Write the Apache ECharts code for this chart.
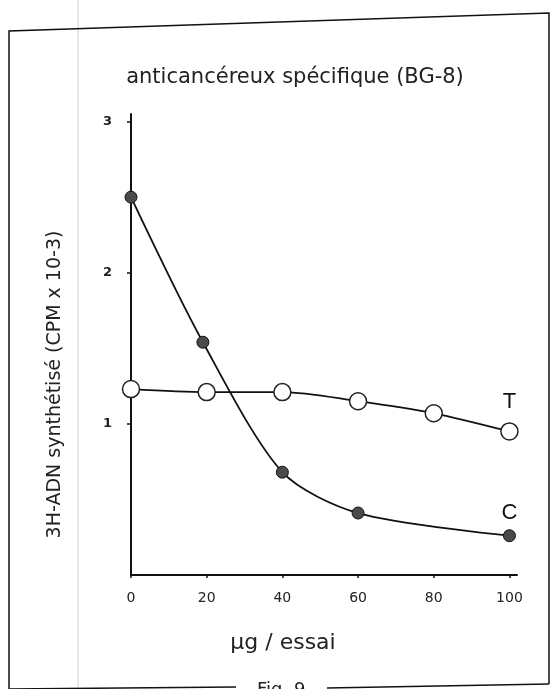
<!DOCTYPE html>
<html>
<head>
<meta charset="utf-8">
<script src="https://cdn.jsdelivr.net/npm/echarts@6/dist/echarts.min.js"></script>
<style>html,body{margin:0;padding:0;background:#fff;}#c{width:550px;height:689px;}</style>
</head>
<body>
<div id="c"></div>
<script>
const titleText = 'anticancéreux spécifique (BG-8)';
const yAxisName = '3H-ADN synthétisé (CPM x 10-3)';
const xAxisName = 'µg / essai';
const figText = 'Fig. 9';
const dosesC = [0, 19, 40, 60, 100];
const valuesC = [2.50, 1.54, 0.68, 0.41, 0.26];
const dosesT = [0, 20, 40, 60, 80, 100];
const valuesT = [1.23, 1.21, 1.21, 1.15, 1.07, 0.95];
const labelC = 'C';
const labelT = 'T';

const font = '"DejaVu Sans", sans-serif';
function build(xs, ys, lbl, dist) {
  return xs.map((x, i) => {
    const item = { value: [x, ys[i]] };
    if (i === xs.length - 1) {
      item.label = { show: true, formatter: lbl, position: 'top', distance: dist,
        fontSize: 22, color: '#111', fontFamily: '"Liberation Sans", sans-serif' };
    }
    return item;
  });
}
const chart = echarts.init(document.getElementById('c'));
chart.setOption({
  backgroundColor: '#fff',
  animation: false,
  title: { text: titleText, left: 290, textAlign: 'center', top: 62,
    textStyle: { fontFamily: font, fontWeight: 'normal', fontSize: 21, color: '#222' } },
  grid: { left: 131, right: 33, top: 114, bottom: 114 },
  xAxis: {
    type: 'value', min: 0, max: 102, interval: 20,
    name: xAxisName, nameLocation: 'middle', nameGap: 57,
    nameTextStyle: { fontFamily: font, fontSize: 22, color: '#222', padding: [0, 82, 0, 0] },
    axisLine: { show: true, lineStyle: { color: '#111', width: 2 } },
    axisTick: { show: true, length: 3, lineStyle: { color: '#111', width: 1.5 } },
    axisLabel: { showMaxLabel: false, margin: 16, fontFamily: font, fontSize: 14, color: '#222' },
    splitLine: { show: false }
  },
  yAxis: {
    type: 'value', min: 0, max: 3.05, interval: 1,
    name: yAxisName, nameLocation: 'middle', nameGap: 66, nameRotate: 90,
    nameTextStyle: { fontFamily: font, fontSize: 19, color: '#222', padding: [0, 80, 0, 0] },
    axisLine: { show: true, lineStyle: { color: '#111', width: 2 } },
    axisTick: { show: true, length: 4, lineStyle: { color: '#111', width: 1.5 } },
    axisLabel: { showMaxLabel: false, showMinLabel: false, margin: 19, fontFamily: font, fontSize: 13, fontWeight: 'bold', color: '#222' },
    splitLine: { show: false }
  },
  series: [
    { type: 'line', name: 'T', smooth: 0.3, data: build(dosesT, valuesT, labelT, 9),
      symbol: 'circle', symbolSize: 17,
      itemStyle: { color: '#fff', borderColor: '#222', borderWidth: 1.5 },
      lineStyle: { color: '#111', width: 1.8 }, z: 2 },
    { type: 'line', name: 'C', smooth: 0.28, data: build(dosesC, valuesC, labelC, 5),
      symbol: 'circle', symbolSize: 12,
      itemStyle: { color: '#4a4a4a', borderColor: '#111', borderWidth: 1 },
      lineStyle: { color: '#111', width: 1.8 }, z: 3 }
  ],
  graphic: [
    { type: 'line', silent: true, shape: { x1: 78, y1: 0, x2: 78, y2: 689 }, style: { stroke: '#e0e0e0', lineWidth: 1.5 } },
    { type: 'polyline', silent: true, shape: { points: [[9, 689], [9, 31], [549, 13], [549, 684]] }, style: { stroke: '#111', lineWidth: 1.5, fill: null } },
    { type: 'line', silent: true, shape: { x1: 9, y1: 689, x2: 236, y2: 687 }, style: { stroke: '#111', lineWidth: 1.5 } },
    { type: 'line', silent: true, shape: { x1: 327, y1: 688, x2: 549, y2: 684 }, style: { stroke: '#111', lineWidth: 1.5 } },
    { type: 'text', silent: true, left: 257, top: 681, style: { text: figText, fontFamily: font, fontSize: 18, fill: '#222' } }
  ]
});
</script>
</body>
</html>
